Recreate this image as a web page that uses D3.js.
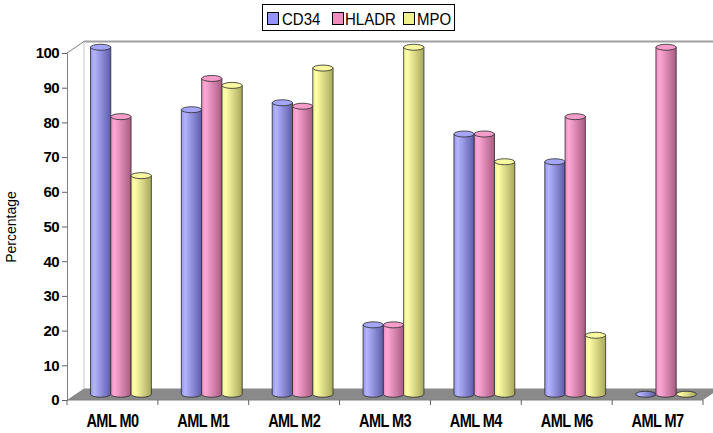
<!DOCTYPE html>
<html>
<head>
<meta charset="utf-8">
<script src="https://cdn.jsdelivr.net/npm/d3@7"></script>
<style>
  html, body { margin: 0; padding: 0; background: #fff; }
  svg { display: block; }
  text { font-family: "Liberation Sans", Arial, sans-serif; fill: #000; }
</style>
</head>
<body>
<svg id="chart" width="713" height="433"></svg>
<script>
// Marker positivity by AML subtype
const categories = ["AML M0", "AML M1", "AML M2", "AML M3", "AML M4", "AML M6", "AML M7"];
const seriesNames = ["CD34", "HLADR", "MPO"];
const cd34  = [100, 82, 84, 20, 75, 67, 0];
const hladr = [80, 91, 83, 20, 75, 80, 100];
const mpo   = [63, 89, 94, 100, 67, 17, 0];
const yTicks = [0, 10, 20, 30, 40, 50, 60, 70, 80, 90, 100];

const seriesValues = [cd34, hladr, mpo];
const palette = [
  { light: "#b4b4ff", base: "#9494f4", dark: "#5c5ca8", cap: "#a6a6f8" },
  { light: "#ffa8d6", base: "#ee8cc0", dark: "#a85c82", cap: "#f59ccb" },
  { light: "#ffffa8", base: "#f0f090", dark: "#a8a85c", cap: "#f8f8a0" }
];

const svg = d3.select("#chart");
const defs = svg.append("defs");
palette.forEach((c, i) => {
  const g = defs.append("linearGradient").attr("id", "cyl" + i)
    .attr("x1", "0%").attr("x2", "100%").attr("y1", "0%").attr("y2", "0%");
  g.append("stop").attr("offset", "0%").attr("stop-color", c.base);
  g.append("stop").attr("offset", "18%").attr("stop-color", c.light);
  g.append("stop").attr("offset", "100%").attr("stop-color", c.dark);
});

// Front plane geometry and the depth offset of the 3D box
const plotLeft = 67, plotRight = 703, plotBottom = 400, plotTop = 53;
const depthX = 17, depthY = -11.5;

const y = d3.scaleLinear().domain([0, 100]).range([plotBottom, plotTop]);
const x = d3.scaleBand().domain(categories).range([plotLeft, plotRight]).padding(0);
const xs = d3.scaleBand().domain(seriesNames)
  .range([15, x.bandwidth() - 15]).padding(0);

// Back wall and left side wall
const wall = svg.append("g");
wall.append("line")
  .attr("x1", plotLeft + depthX).attr("y1", y(100) + depthY)
  .attr("x2", 713).attr("y2", y(100) + depthY)
  .attr("stroke", "#a0a0a0").attr("stroke-width", 2);
wall.append("line")
  .attr("x1", plotLeft + depthX).attr("y1", y(100) + depthY)
  .attr("x2", plotLeft + depthX).attr("y2", y(0) + depthY)
  .attr("stroke", "#c8c8c8").attr("stroke-width", 1);
wall.append("line")
  .attr("x1", plotLeft).attr("y1", y(100))
  .attr("x2", plotLeft + depthX).attr("y2", y(100) + depthY)
  .attr("stroke", "#808080").attr("stroke-width", 1);

// Floor
svg.append("polygon")
  .attr("points", [
    [plotLeft, y(0)], [plotLeft + depthX, y(0) + depthY],
    [plotRight + depthX, y(0) + depthY], [plotRight, y(0)]
  ].map(p => p.join(",")).join(" "))
  .attr("fill", "#8a8a8a");

// Y axis on the front plane
const yAxis = svg.append("g")
  .attr("transform", `translate(${plotLeft},0)`)
  .call(d3.axisLeft(y).tickValues(yTicks).tickSize(5).tickPadding(3).tickFormat(d3.format("d")));
yAxis.select(".domain").attr("stroke", "#808080");
yAxis.selectAll(".tick line").attr("stroke", "#606060");
yAxis.selectAll(".tick text")
  .style("font-size", "15px").style("font-weight", "bold")
  .style("font-family", "'Liberation Sans', Arial, sans-serif")
  .attr("letter-spacing", "-0.6");

// X axis on the front plane, ticks on the category boundaries
const xAxis = svg.append("g")
  .attr("transform", `translate(0,${plotBottom})`);
xAxis.append("line")
  .attr("x1", plotLeft).attr("x2", plotRight).attr("y1", 0).attr("y2", 0)
  .attr("stroke", "#808080");
xAxis.selectAll("line.tick")
  .data(categories.map(c => x(c)).concat([plotRight]))
  .join("line").attr("class", "tick")
  .attr("x1", d => d).attr("x2", d => d).attr("y1", 0).attr("y2", 5)
  .attr("stroke", "#606060");
xAxis.selectAll("text.lbl")
  .data(categories)
  .join("text").attr("class", "lbl")
  .attr("transform", d => `translate(${x(d) + x.bandwidth() / 2},27) scale(0.97,1.2)`)
  .attr("text-anchor", "middle")
  .attr("letter-spacing", "-0.6")
  .style("font-size", "15px").style("font-weight", "bold")
  .text(d => d);

// Y axis title
svg.append("text")
  .attr("transform", "translate(16,227) rotate(-90)")
  .attr("text-anchor", "middle")
  .style("font-size", "14px")
  .text("Percentage");

// Cylinders, standing at the middle of the box depth
const midX = depthX / 2, midY = depthY / 2;
const ry = 3;
const bars = [];
categories.forEach((c, ci) => {
  seriesNames.forEach((s, si) => {
    bars.push({ cat: c, series: s, si, value: seriesValues[si][ci] });
  });
});

const barG = svg.append("g");
const cyl = barG.selectAll("g.bar").data(bars).join("g").attr("class", "bar");
cyl.each(function(d) {
  const g = d3.select(this);
  const w = xs.bandwidth();
  const rx = w / 2;
  const x0 = x(d.cat) + xs(d.series) + midX;
  const yTop = y(d.value) + midY;
  const yBot = y(0) + midY;
  const c = palette[d.si];
  if (d.value > 0) {
    g.append("path")
      .attr("d", `M${x0},${yTop} L${x0},${yBot} A${rx},${ry} 0 0 0 ${x0 + w},${yBot} L${x0 + w},${yTop} Z`)
      .attr("fill", `url(#cyl${d.si})`)
      .attr("stroke", "#2a2a2a").attr("stroke-width", 0.8);
  }
  g.append("ellipse")
    .attr("cx", x0 + rx).attr("cy", yTop)
    .attr("rx", rx).attr("ry", ry)
    .attr("fill", d.value > 0 ? c.cap : `url(#cyl${d.si})`)
    .attr("stroke", "#2a2a2a").attr("stroke-width", 0.8);
});

// Legend
const legendItems = [
  { name: "CD34", sx: 267, tx: 282 },
  { name: "HLADR", sx: 332, tx: 345 },
  { name: "MPO", sx: 403, tx: 417 }
];
const legend = svg.append("g");
legend.append("rect")
  .attr("x", 262.5).attr("y", 4.5).attr("width", 192).attr("height", 26)
  .attr("fill", "#fff").attr("stroke", "#000").attr("stroke-width", 1);
legend.selectAll("rect.sw").data(legendItems).join("rect").attr("class", "sw")
  .attr("x", d => d.sx + 0.5).attr("y", 12.5).attr("width", 11).attr("height", 12)
  .attr("fill", (d, i) => palette[i].base)
  .attr("stroke", "#000").attr("stroke-width", 1);
legend.selectAll("text").data(legendItems).join("text")
  .attr("transform", d => `translate(${d.tx},25) scale(1,1.15)`)
  .style("font-size", "15px")
  .text(d => d.name);
</script>
</body>
</html>
